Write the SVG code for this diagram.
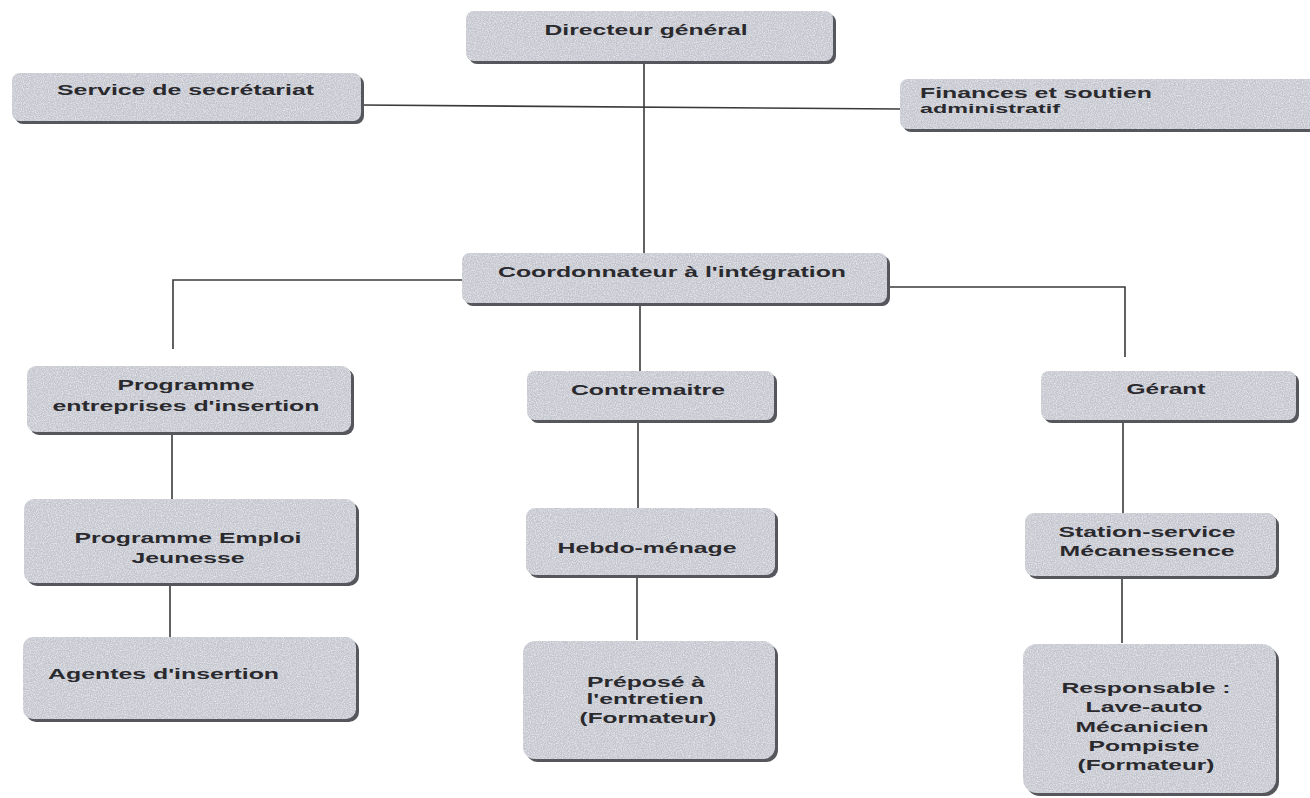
<svg xmlns="http://www.w3.org/2000/svg" width="1310" height="798" viewBox="0 0 1310 798">
<style>
.shadow{fill:#56575d}
.box{fill:#c4c6cf;filter:url(#grain)}
.t{font-family:"Liberation Sans",Arial,Helvetica,sans-serif;font-weight:bold;font-size:15px;fill:#2a2a2e;text-anchor:middle}
.l{text-anchor:start}
.conn{fill:none;stroke:#3a3a3c;stroke-width:1.6}
</style>
<defs>
<filter id="grain" x="0" y="0" width="100%" height="100%">
<feTurbulence type="fractalNoise" baseFrequency="0.85" numOctaves="2" seed="3" result="n"/>
<feColorMatrix in="n" type="matrix" values="0 0 0 0 1  0 0 0 0 1  0 0 0 0 1  0 0 0 -1.2 0.75" result="w"/>
<feComposite in="w" in2="SourceGraphic" operator="in" result="wm"/>
<feMerge><feMergeNode in="SourceGraphic"/><feMergeNode in="wm"/></feMerge>
</filter>
</defs>
<rect width="1310" height="798" fill="#ffffff"/>

<g id="connectors">
<line class="conn" x1="644" y1="62" x2="644" y2="254"/>
<line class="conn" x1="362" y1="105" x2="900" y2="109"/>
<polyline class="conn" points="462,280 173,280 173,349"/>
<polyline class="conn" points="887,287 1125,287 1125,357"/>
<line class="conn" x1="640" y1="305" x2="640" y2="373"/>
<line class="conn" x1="172" y1="433" x2="172" y2="500"/>
<line class="conn" x1="170" y1="585" x2="170" y2="637"/>
<line class="conn" x1="638" y1="420" x2="638" y2="508"/>
<line class="conn" x1="637" y1="577" x2="637" y2="640"/>
<line class="conn" x1="1123" y1="420" x2="1123" y2="513"/>
<line class="conn" x1="1122" y1="578" x2="1122" y2="643"/>
</g>

<g id="directeur">
<rect class="shadow" x="469" y="14" width="367" height="50" rx="8"/>
<rect class="box" x="466" y="11" width="367" height="50" rx="8"/>
<text class="t" x="646" y="35" textLength="203" lengthAdjust="spacingAndGlyphs">Directeur général</text>
</g>

<g id="secretariat">
<rect class="shadow" x="15" y="76" width="349" height="48" rx="8"/>
<rect class="box" x="12" y="73" width="349" height="48" rx="8"/>
<text class="t l" x="57" y="95" textLength="257" lengthAdjust="spacingAndGlyphs">Service de secrétariat</text>
</g>

<g id="finances">
<rect class="shadow" x="903" y="82" width="420" height="50" rx="8"/>
<rect class="box" x="900" y="79" width="420" height="50" rx="8"/>
<text class="t l" x="920" y="98" textLength="232" lengthAdjust="spacingAndGlyphs">Finances et soutien</text>
<text class="t l" x="920" y="113" style="font-size:13px" textLength="140" lengthAdjust="spacingAndGlyphs">administratif</text>
</g>

<g id="coordonnateur">
<rect class="shadow" x="465" y="256" width="425" height="50" rx="8"/>
<rect class="box" x="462" y="253" width="425" height="50" rx="8"/>
<text class="t" x="672" y="277" textLength="348" lengthAdjust="spacingAndGlyphs">Coordonnateur à l'intégration</text>
</g>

<g id="programme-entreprises">
<rect class="shadow" x="30" y="369" width="324" height="66" rx="9"/>
<rect class="box" x="27" y="366" width="324" height="66" rx="9"/>
<text class="t" x="186" y="390" textLength="137" lengthAdjust="spacingAndGlyphs">Programme</text>
<text class="t" x="186" y="411" textLength="267" lengthAdjust="spacingAndGlyphs">entreprises d'insertion</text>
</g>

<g id="contremaitre">
<rect class="shadow" x="530" y="374" width="247" height="49" rx="8"/>
<rect class="box" x="527" y="371" width="247" height="49" rx="8"/>
<text class="t" x="648" y="395" textLength="154" lengthAdjust="spacingAndGlyphs">Contremaitre</text>
</g>

<g id="gerant">
<rect class="shadow" x="1044" y="374" width="255" height="49" rx="8"/>
<rect class="box" x="1041" y="371" width="255" height="49" rx="8"/>
<text class="t" x="1166" y="394" textLength="79" lengthAdjust="spacingAndGlyphs">Gérant</text>
</g>

<g id="programme-emploi">
<rect class="shadow" x="27" y="502" width="332" height="84" rx="10"/>
<rect class="box" x="24" y="499" width="332" height="84" rx="10"/>
<text class="t" x="188" y="543" textLength="227" lengthAdjust="spacingAndGlyphs">Programme Emploi</text>
<text class="t" x="188" y="563" textLength="113" lengthAdjust="spacingAndGlyphs">Jeunesse</text>
</g>

<g id="hebdo">
<rect class="shadow" x="529" y="511" width="249" height="67" rx="9"/>
<rect class="box" x="526" y="508" width="249" height="67" rx="9"/>
<text class="t" x="647" y="553" textLength="179" lengthAdjust="spacingAndGlyphs">Hebdo-ménage</text>
</g>

<g id="station">
<rect class="shadow" x="1028" y="516" width="251" height="63" rx="9"/>
<rect class="box" x="1025" y="513" width="251" height="63" rx="9"/>
<text class="t" x="1147" y="537" textLength="177" lengthAdjust="spacingAndGlyphs">Station-service</text>
<text class="t" x="1147" y="556" textLength="175" lengthAdjust="spacingAndGlyphs">Mécanessence</text>
</g>

<g id="agentes">
<rect class="shadow" x="26" y="640" width="333" height="82" rx="10"/>
<rect class="box" x="23" y="637" width="333" height="82" rx="10"/>
<text class="t l" x="48" y="679" textLength="231" lengthAdjust="spacingAndGlyphs">Agentes d'insertion</text>
</g>

<g id="prepose">
<rect class="shadow" x="526" y="644" width="252" height="118" rx="12"/>
<rect class="box" x="523" y="641" width="252" height="118" rx="12"/>
<text class="t" x="646" y="687" textLength="118" lengthAdjust="spacingAndGlyphs">Préposé à</text>
<text class="t" x="645" y="704" textLength="117" lengthAdjust="spacingAndGlyphs">l'entretien</text>
<text class="t" x="648" y="723" textLength="137" lengthAdjust="spacingAndGlyphs">(Formateur)</text>
</g>

<g id="responsable">
<rect class="shadow" x="1026" y="647" width="253" height="149" rx="14"/>
<rect class="box" x="1023" y="644" width="253" height="149" rx="14"/>
<text class="t" x="1146" y="693" textLength="169" lengthAdjust="spacingAndGlyphs">Responsable :</text>
<text class="t" x="1144" y="712" textLength="117" lengthAdjust="spacingAndGlyphs">Lave-auto</text>
<text class="t" x="1142" y="732" textLength="133" lengthAdjust="spacingAndGlyphs">Mécanicien</text>
<text class="t" x="1144" y="751" textLength="111" lengthAdjust="spacingAndGlyphs">Pompiste</text>
<text class="t" x="1146" y="770" textLength="137" lengthAdjust="spacingAndGlyphs">(Formateur)</text>
</g>
</svg>
